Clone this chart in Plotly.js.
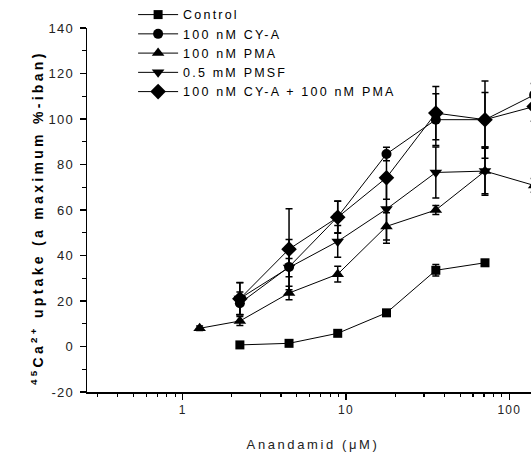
<!DOCTYPE html>
<html>
<head>
<meta charset="utf-8">
<script src="https://cdn.plot.ly/plotly-3.0.1.min.js"></script>
<style>
html,body{margin:0;padding:0;overflow:hidden;background:#fff;width:531px;height:457px;}
#chart{width:560px;height:457px;}
.legendtext{letter-spacing:2.2px;}
.xtitle{letter-spacing:2.6px;}
.annotation-text{letter-spacing:3.3px;}
.xtick text,.ytick text{letter-spacing:1.2px;}
</style>
</head>
<body>
<div id="chart"></div>
<script>
// Data
const seriesNames = ["Control", "100 nM CY-A", "100 nM PMA", "0.5 mM PMSF", "100 nM CY-A + 100 nM PMA"];

const xControl = [2.24, 4.48, 8.9, 17.7, 35.5, 71];
const yControl = [0.7, 1.4, 5.8, 14.8, 33.5, 36.8];
const eControl = [0.5, 0.5, 0.8, 1, 2.5, 1];

const xCYA = [2.24, 4.48, 8.9, 17.7, 35.5, 71, 142];
const yCYA = [19, 35, 57, 84.6, 99.7, 99.7, 110.6];
const eCYA = [5, 12, 7, 3, 11.4, 17, 5];

const xPMA = [1.27, 2.24, 4.48, 8.9, 17.7, 35.5, 71, 142];
const yPMA = [8, 11.2, 23.5, 31.8, 52.8, 60, 77.1, 70.8];
const ePMA = [1, 2, 3, 3.5, 6, 2, 10, 3];

const xPMSF = [2.24, 4.48, 8.9, 17.7, 35.5, 71];
const yPMSF = [21.1, 34.7, 46.2, 60.4, 76.5, 77.1];
const ePMSF = [7, 4, 7, 15, 11.2, 10.6];

const xBoth = [2.24, 4.48, 8.9, 17.7, 35.5, 71, 142];
const yBoth = [21, 42.8, 56.8, 74.2, 102.6, 99.7, 105.5];
const eBoth = [7, 17.8, 7, 9.5, 11.7, 12, 6.5];

const yTickVals = [-20, 0, 20, 40, 60, 80, 100, 120, 140];
const yTickText = ["-20", "0", "20", "40", "60", "80", "100", "120", "140"];
const yMinorVals = [-10, 10, 30, 50, 70, 90, 110, 130];
const xTickVals = [1, 10, 100];
const xTickText = ["1", "10", "100"];
const xMinorVals = [0.3,0.4,0.5,0.6,0.7,0.8,0.9,2,3,4,5,6,7,8,9,20,30,40,50,60,70,80,90];
const yTitle = '<b><sup>45</sup>Ca<sup>2+</sup> uptake (a maximum %-iban)</b>';

function mk(name, x, y, e, symbol, size) {
  return {
    type: 'scatter', mode: 'lines+markers', name: name, x: x, y: y,
    line: {color: '#000', width: 1},
    marker: {symbol: symbol, size: size, color: '#000'},
    error_y: {type: 'data', array: e, visible: true, color: '#000', thickness: 1.5, width: 3.5},
    cliponaxis: true
  };
}

const traces = [
  mk(seriesNames[0], xControl, yControl, eControl, 'square', 9),
  mk(seriesNames[1], xCYA, yCYA, eCYA, 'circle', 10),
  mk(seriesNames[2], xPMA, yPMA, ePMA, 'triangle-up', 11),
  mk(seriesNames[3], xPMSF, yPMSF, ePMSF, 'triangle-down', 11),
  mk(seriesNames[4], xBoth, yBoth, eBoth, 'diamond', 12)
];

const layout = {
  width: 560, height: 457,
  margin: {l: 87, r: 21, t: 28, b: 65, autoexpand: false},
  paper_bgcolor: '#fff', plot_bgcolor: '#fff',
  font: {family: 'Liberation Sans, Arial, sans-serif', size: 12, color: '#111'},
  showlegend: true,
  legend: {x: 0.102, xanchor: 'left', y: 1.077, yanchor: 'top', bgcolor: 'rgba(0,0,0,0)',
           font: {size: 12.5, color: '#000'}, tracegroupgap: 0, itemwidth: 40},
  xaxis: {
    type: 'log', range: [-0.586, 2.182],
    showgrid: false, zeroline: false, showline: true, linecolor: '#000', linewidth: 1.5,
    ticks: 'outside', ticklen: 6, tickwidth: 1.5, tickcolor: '#000',
    tickmode: 'array', tickvals: xTickVals, ticktext: xTickText,
    tickfont: {size: 12, color: '#222'},
    minor: {tickmode: 'array', tickvals: xMinorVals, ticks: 'outside', ticklen: 3, tickwidth: 1.2, tickcolor: '#000', showgrid: false},
    title: {text: 'Anandamid (μM)', font: {size: 13, color: '#222'}, standoff: 24}
  },
  yaxis: {
    range: [-20, 140],
    showgrid: false, zeroline: false, showline: true, linecolor: '#000', linewidth: 1.5,
    ticks: 'outside', ticklen: 6, tickwidth: 1.5, tickcolor: '#000',
    tickmode: 'array', tickvals: yTickVals, ticktext: yTickText,
    tickfont: {size: 13, color: '#222'}, ticklabelstandoff: 3,
    minor: {tickmode: 'array', tickvals: yMinorVals, ticks: 'outside', ticklen: 4, tickwidth: 1.2, tickcolor: '#000', showgrid: false}
  },
  annotations: [{
    text: yTitle, xref: 'paper', yref: 'paper', x: -0.1106, y: 0.478,
    xanchor: 'center', yanchor: 'middle', textangle: -90, showarrow: false,
    font: {size: 14, color: '#000', family: 'Liberation Sans, Arial, sans-serif'}
  }]
};

Plotly.newPlot('chart', traces, layout, {displayModeBar: false, staticPlot: true});
</script>
</body>
</html>
